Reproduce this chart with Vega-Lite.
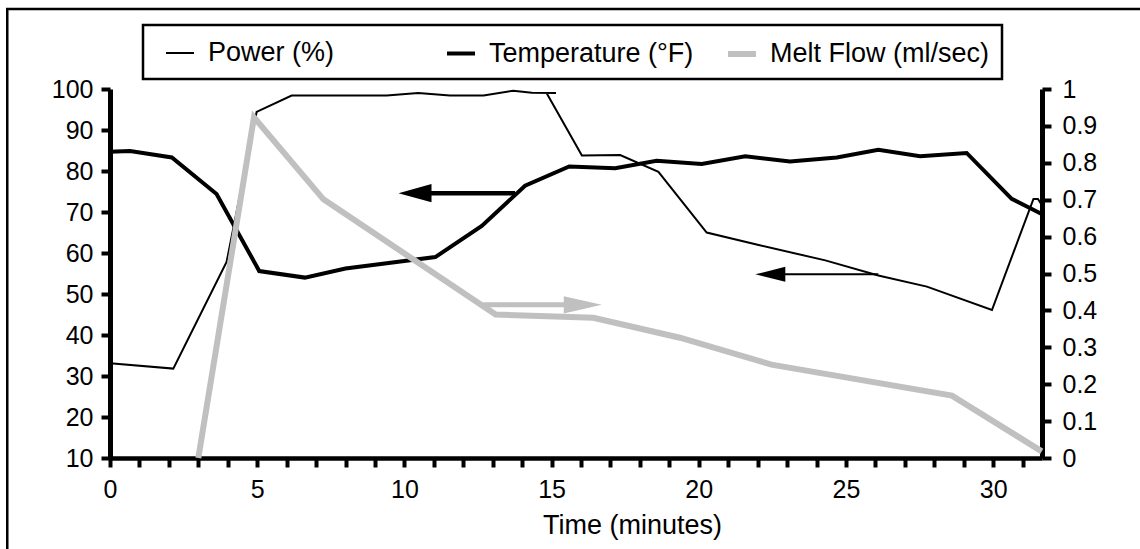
{
  "$schema": "https://vega.github.io/schema/vega-lite/v6.json",
  "width": 932,
  "height": 369,
  "autosize": {"type": "none"},
  "padding": {"left": 110, "top": 89, "right": 98, "bottom": 91},
  "background": "white",
  "datasets": {
    "series": [
      {"series": "Power (%)", "i": 0, "t": 0, "v": 33.1},
      {"series": "Power (%)", "i": 1, "t": 2.15, "v": 31.8},
      {"series": "Power (%)", "i": 2, "t": 3.96, "v": 57.8},
      {"series": "Power (%)", "i": 3, "t": 4.98, "v": 94.4},
      {"series": "Power (%)", "i": 4, "t": 6.17, "v": 98.4},
      {"series": "Power (%)", "i": 5, "t": 8.4, "v": 98.4},
      {"series": "Power (%)", "i": 6, "t": 9.4, "v": 98.4},
      {"series": "Power (%)", "i": 7, "t": 10.47, "v": 99.0},
      {"series": "Power (%)", "i": 8, "t": 11.55, "v": 98.4},
      {"series": "Power (%)", "i": 9, "t": 12.69, "v": 98.4},
      {"series": "Power (%)", "i": 10, "t": 13.7, "v": 99.6},
      {"series": "Power (%)", "i": 11, "t": 14.33, "v": 99.1},
      {"series": "Power (%)", "i": 12, "t": 15.15, "v": 99.0},
      {"series": "Power (%)", "i": 13, "t": 14.83, "v": 99.0},
      {"series": "Power (%)", "i": 14, "t": 16.03, "v": 83.8},
      {"series": "Power (%)", "i": 15, "t": 17.33, "v": 83.9},
      {"series": "Power (%)", "i": 16, "t": 18.63, "v": 79.8},
      {"series": "Power (%)", "i": 17, "t": 20.27, "v": 65.0},
      {"series": "Power (%)", "i": 18, "t": 22.0, "v": 62.0},
      {"series": "Power (%)", "i": 19, "t": 24.3, "v": 58.2},
      {"series": "Power (%)", "i": 20, "t": 26.1, "v": 54.5},
      {"series": "Power (%)", "i": 21, "t": 27.75, "v": 51.8},
      {"series": "Power (%)", "i": 22, "t": 29.96, "v": 46.1},
      {"series": "Power (%)", "i": 23, "t": 31.37, "v": 73.2},
      {"series": "Power (%)", "i": 24, "t": 31.52, "v": 73.2},
      {"series": "Power (%)", "i": 25, "t": 31.65, "v": 71.8},
      {"series": "Temperature (°F)", "i": 0, "t": 0, "v": 84.7},
      {"series": "Temperature (°F)", "i": 1, "t": 0.68, "v": 84.9},
      {"series": "Temperature (°F)", "i": 2, "t": 2.1, "v": 83.3},
      {"series": "Temperature (°F)", "i": 3, "t": 3.62, "v": 74.4},
      {"series": "Temperature (°F)", "i": 4, "t": 5.07, "v": 55.6},
      {"series": "Temperature (°F)", "i": 5, "t": 6.62, "v": 54.0},
      {"series": "Temperature (°F)", "i": 6, "t": 8.0, "v": 56.2},
      {"series": "Temperature (°F)", "i": 7, "t": 9.4, "v": 57.5},
      {"series": "Temperature (°F)", "i": 8, "t": 11.05, "v": 59.0},
      {"series": "Temperature (°F)", "i": 9, "t": 12.63, "v": 66.6},
      {"series": "Temperature (°F)", "i": 10, "t": 14.1, "v": 76.4},
      {"series": "Temperature (°F)", "i": 11, "t": 15.6, "v": 81.1},
      {"series": "Temperature (°F)", "i": 12, "t": 17.16, "v": 80.7},
      {"series": "Temperature (°F)", "i": 13, "t": 18.57, "v": 82.5},
      {"series": "Temperature (°F)", "i": 14, "t": 20.1, "v": 81.7},
      {"series": "Temperature (°F)", "i": 15, "t": 21.58, "v": 83.6},
      {"series": "Temperature (°F)", "i": 16, "t": 23.1, "v": 82.3},
      {"series": "Temperature (°F)", "i": 17, "t": 24.69, "v": 83.3},
      {"series": "Temperature (°F)", "i": 18, "t": 26.1, "v": 85.2},
      {"series": "Temperature (°F)", "i": 19, "t": 27.52, "v": 83.6},
      {"series": "Temperature (°F)", "i": 20, "t": 29.1, "v": 84.4},
      {"series": "Temperature (°F)", "i": 21, "t": 30.63, "v": 73.2},
      {"series": "Temperature (°F)", "i": 22, "t": 31.65, "v": 69.5},
      {"series": "Melt Flow (ml/sec)", "i": 0, "t": 3.0, "v": 0},
      {"series": "Melt Flow (ml/sec)", "i": 1, "t": 4.89, "v": 0.923},
      {"series": "Melt Flow (ml/sec)", "i": 2, "t": 7.25, "v": 0.701},
      {"series": "Melt Flow (ml/sec)", "i": 3, "t": 13.1, "v": 0.389},
      {"series": "Melt Flow (ml/sec)", "i": 4, "t": 16.42, "v": 0.38},
      {"series": "Melt Flow (ml/sec)", "i": 5, "t": 19.36, "v": 0.326},
      {"series": "Melt Flow (ml/sec)", "i": 6, "t": 22.47, "v": 0.253},
      {"series": "Melt Flow (ml/sec)", "i": 7, "t": 28.6, "v": 0.169},
      {"series": "Melt Flow (ml/sec)", "i": 8, "t": 31.65, "v": 0.018}
    ],
    "arrows": [
      {"arrow": "Temperature", "head": 10.36, "tail": 13.76, "v": 74.6},
      {"arrow": "Power", "head": 22.43, "tail": 26.1, "v": 54.8},
      {"arrow": "Melt", "head": 16.06, "tail": 12.68, "v": 0.415}
    ]
  },
  "layer": [
    {
      "layer": [
        {
          "data": {"values": [{}]},
          "mark": {"type": "rect", "fill": "transparent", "stroke": "black", "strokeWidth": 2.5, "clip": false},
          "encoding": {
            "x": {"datum": -3.49, "type": "quantitative", "scale": {"domain": [0, 31.66], "nice": false, "zero": false},
                  "axis": {"title": "Time (minutes)", "values": [0,1,2,3,4,5,6,7,8,9,10,11,12,13,14,15,16,17,18,19,20,21,22,23,24,25,26,27,28,29,30,31], "tickCount": 32, "labelExpr": "datum.value % 5 === 0 ? datum.label : ''", "labelFlush": false, "labelOverlap": false, "titleX": 522, "titleY": 75, "titleBaseline": "alphabetic", "titleAlign": "center", "labelPadding": 10, "domainWidth": 4.5}},
            "x2": {"datum": 37},
            "y": {"datum": 119.5, "type": "quantitative", "scale": {"domain": [10, 100], "nice": false, "zero": false},
                  "axis": {"title": null, "orient": "left", "values": [10,20,30,40,50,60,70,80,90,100], "tickCount": 10, "labelOverlap": false, "labelPadding": 8}},
            "y2": {"datum": -20}
          }
        },
        {
          "data": {"name": "series"},
          "transform": [{"filter": "datum.series == 'Power (%)'"}],
          "mark": {"type": "line"},
          "encoding": {
            "x": {"field": "t", "type": "quantitative", "scale": {"domain": [0, 31.66], "nice": false, "zero": false},
                  "axis": {"title": "Time (minutes)", "values": [0,1,2,3,4,5,6,7,8,9,10,11,12,13,14,15,16,17,18,19,20,21,22,23,24,25,26,27,28,29,30,31], "tickCount": 32, "labelExpr": "datum.value % 5 === 0 ? datum.label : ''", "labelFlush": false, "labelOverlap": false, "titleX": 522, "titleY": 75, "titleBaseline": "alphabetic", "titleAlign": "center", "labelPadding": 10, "domainWidth": 4.5}},
            "y": {"field": "v", "type": "quantitative", "scale": {"domain": [10, 100], "nice": false, "zero": false},
                  "axis": {"title": null, "orient": "left", "values": [10,20,30,40,50,60,70,80,90,100], "tickCount": 10, "labelOverlap": false, "labelPadding": 8}},
            "order": {"field": "i", "type": "quantitative"},
            "color": {"field": "series", "type": "nominal",
                      "scale": {"domain": ["Power (%)", "Temperature (°F)", "Melt Flow (ml/sec)"], "range": ["#000000", "#000000", "#c0c0c0"]},
                      "legend": {"title": null, "orient": "none", "legendX": 33, "legendY": -64, "direction": "horizontal", "columns": 3, "symbolType": "stroke", "labelExpr": "datum.label == 'Melt Flow (ml/sec)' ? datum.label + '\u00a0' : datum.label"}},
            "strokeWidth": {"field": "series", "type": "nominal",
                      "scale": {"domain": ["Power (%)", "Temperature (°F)", "Melt Flow (ml/sec)"], "range": [2, 6, 5]},
                      "legend": {"title": null, "orient": "none", "legendX": 33, "legendY": -64, "direction": "horizontal", "columns": 3, "symbolType": "stroke", "labelExpr": "datum.label == 'Melt Flow (ml/sec)' ? datum.label + '\u00a0' : datum.label"}}
          }
        },
        {
          "data": {"name": "series"},
          "transform": [{"filter": "datum.series == 'Temperature (°F)'"}],
          "mark": {"type": "line"},
          "encoding": {
            "x": {"field": "t", "type": "quantitative", "scale": {"domain": [0, 31.66], "nice": false, "zero": false},
                  "axis": {"title": "Time (minutes)", "values": [0,1,2,3,4,5,6,7,8,9,10,11,12,13,14,15,16,17,18,19,20,21,22,23,24,25,26,27,28,29,30,31], "tickCount": 32, "labelExpr": "datum.value % 5 === 0 ? datum.label : ''", "labelFlush": false, "labelOverlap": false, "titleX": 522, "titleY": 75, "titleBaseline": "alphabetic", "titleAlign": "center", "labelPadding": 10, "domainWidth": 4.5}},
            "y": {"field": "v", "type": "quantitative", "scale": {"domain": [10, 100], "nice": false, "zero": false},
                  "axis": {"title": null, "orient": "left", "values": [10,20,30,40,50,60,70,80,90,100], "tickCount": 10, "labelOverlap": false, "labelPadding": 8}},
            "order": {"field": "i", "type": "quantitative"},
            "color": {"field": "series", "type": "nominal",
                      "scale": {"domain": ["Power (%)", "Temperature (°F)", "Melt Flow (ml/sec)"], "range": ["#000000", "#000000", "#c0c0c0"]},
                      "legend": {"title": null, "orient": "none", "legendX": 33, "legendY": -64, "direction": "horizontal", "columns": 3, "symbolType": "stroke", "labelExpr": "datum.label == 'Melt Flow (ml/sec)' ? datum.label + '\u00a0' : datum.label"}},
            "strokeWidth": {"field": "series", "type": "nominal",
                      "scale": {"domain": ["Power (%)", "Temperature (°F)", "Melt Flow (ml/sec)"], "range": [2, 6, 5]},
                      "legend": {"title": null, "orient": "none", "legendX": 33, "legendY": -64, "direction": "horizontal", "columns": 3, "symbolType": "stroke", "labelExpr": "datum.label == 'Melt Flow (ml/sec)' ? datum.label + '\u00a0' : datum.label"}}
          }
        },
        {
          "data": {"name": "arrows"},
          "transform": [{"filter": "datum.arrow == 'Temperature'"}],
          "mark": {"type": "rule", "color": "black", "strokeWidth": 4.5},
          "encoding": {
            "x": {"field": "head", "type": "quantitative", "scale": {"domain": [0, 31.66], "nice": false, "zero": false}, "title": "Time (minutes)"},
            "x2": {"field": "tail"},
            "y": {"field": "v", "type": "quantitative", "scale": {"domain": [10, 100], "nice": false, "zero": false}, "title": null}
          }
        },
        {
          "data": {"name": "arrows"},
          "transform": [{"filter": "datum.arrow == 'Temperature'"}],
          "mark": {"type": "point", "shape": "M-1,0L1,-0.55L1,0.55Z", "size": 1089, "filled": true, "color": "black", "opacity": 1, "strokeWidth": 0},
          "encoding": {
            "x": {"field": "head", "type": "quantitative", "scale": {"domain": [0, 31.66], "nice": false, "zero": false}, "title": "Time (minutes)"},
            "y": {"field": "v", "type": "quantitative", "scale": {"domain": [10, 100], "nice": false, "zero": false}, "title": null}
          }
        },
        {
          "data": {"name": "arrows"},
          "transform": [{"filter": "datum.arrow == 'Power'"}],
          "mark": {"type": "rule", "color": "black", "strokeWidth": 2},
          "encoding": {
            "x": {"field": "head", "type": "quantitative", "scale": {"domain": [0, 31.66], "nice": false, "zero": false}, "title": "Time (minutes)"},
            "x2": {"field": "tail"},
            "y": {"field": "v", "type": "quantitative", "scale": {"domain": [10, 100], "nice": false, "zero": false}, "title": null}
          }
        },
        {
          "data": {"name": "arrows"},
          "transform": [{"filter": "datum.arrow == 'Power'"}],
          "mark": {"type": "point", "shape": "M-1,0L1,-0.5L1,0.5Z", "size": 900, "filled": true, "color": "black", "opacity": 1, "strokeWidth": 0},
          "encoding": {
            "x": {"field": "head", "type": "quantitative", "scale": {"domain": [0, 31.66], "nice": false, "zero": false}, "title": "Time (minutes)"},
            "y": {"field": "v", "type": "quantitative", "scale": {"domain": [10, 100], "nice": false, "zero": false}, "title": null}
          }
        }
      ]
    },
    {
      "layer": [
        {
          "data": {"name": "series"},
          "transform": [{"filter": "datum.series == 'Melt Flow (ml/sec)'"}],
          "mark": {"type": "line"},
          "encoding": {
            "x": {"field": "t", "type": "quantitative", "scale": {"domain": [0, 31.66], "nice": false, "zero": false},
                  "axis": {"title": "Time (minutes)", "values": [0,1,2,3,4,5,6,7,8,9,10,11,12,13,14,15,16,17,18,19,20,21,22,23,24,25,26,27,28,29,30,31], "tickCount": 32, "labelExpr": "datum.value % 5 === 0 ? datum.label : ''", "labelFlush": false, "labelOverlap": false, "titleX": 522, "titleY": 75, "titleBaseline": "alphabetic", "titleAlign": "center", "labelPadding": 10, "domainWidth": 4.5}},
            "y": {"field": "v", "type": "quantitative", "scale": {"domain": [0, 1], "nice": false, "zero": false},
                  "axis": {"title": null, "orient": "right", "values": [0, 0.1, 0.2, 0.3, 0.4, 0.5, 0.6, 0.7, 0.8, 0.9, 1], "tickCount": 11, "labelOverlap": false, "format": "~g", "labelPadding": 11}},
            "order": {"field": "i", "type": "quantitative"},
            "color": {"field": "series", "type": "nominal",
                      "scale": {"domain": ["Power (%)", "Temperature (°F)", "Melt Flow (ml/sec)"], "range": ["#000000", "#000000", "#c0c0c0"]},
                      "legend": {"title": null, "orient": "none", "legendX": 33, "legendY": -64, "direction": "horizontal", "columns": 3, "symbolType": "stroke", "labelExpr": "datum.label == 'Melt Flow (ml/sec)' ? datum.label + '\u00a0' : datum.label"}},
            "strokeWidth": {"field": "series", "type": "nominal",
                      "scale": {"domain": ["Power (%)", "Temperature (°F)", "Melt Flow (ml/sec)"], "range": [2, 6, 5]},
                      "legend": {"title": null, "orient": "none", "legendX": 33, "legendY": -64, "direction": "horizontal", "columns": 3, "symbolType": "stroke", "labelExpr": "datum.label == 'Melt Flow (ml/sec)' ? datum.label + '\u00a0' : datum.label"}}
          }
        },
        {
          "data": {"name": "arrows"},
          "transform": [{"filter": "datum.arrow == 'Melt'"}],
          "mark": {"type": "rule", "color": "#c0c0c0", "strokeWidth": 5},
          "encoding": {
            "x": {"field": "head", "type": "quantitative", "scale": {"domain": [0, 31.66], "nice": false, "zero": false}, "title": "Time (minutes)"},
            "x2": {"field": "tail"},
            "y": {"field": "v", "type": "quantitative", "scale": {"domain": [0, 1], "nice": false, "zero": false}, "title": null}
          }
        },
        {
          "data": {"name": "arrows"},
          "transform": [{"filter": "datum.arrow == 'Melt'"}],
          "mark": {"type": "point", "shape": "M1,0L-1,-0.45L-1,0.45Z", "size": 1444, "filled": true, "color": "#c0c0c0", "opacity": 1, "strokeWidth": 0},
          "encoding": {
            "x": {"field": "head", "type": "quantitative", "scale": {"domain": [0, 31.66], "nice": false, "zero": false}, "title": "Time (minutes)"},
            "y": {"field": "v", "type": "quantitative", "scale": {"domain": [0, 1], "nice": false, "zero": false}, "title": null}
          }
        }
      ]
    }
  ],
  "resolve": {"scale": {"y": "independent"}},
  "config": {
    "view": {"stroke": null},
    "font": "Liberation Sans",
    "axis": {
      "domainColor": "black", "domainWidth": 5, "tickColor": "black", "tickWidth": 4, "tickSize": 9,
      "labelColor": "black", "labelFont": "Liberation Sans", "labelFontSize": 25, "grid": false,
      "titleFont": "Liberation Sans", "titleFontSize": 27, "titleFontWeight": "normal", "titleColor": "black"
    },
    "legend": {
      "gridAlign": "all", "columnPadding": 7, "padding": 12, "symbolOffset": 8, "labelOffset": 11,
      "symbolSize": 784, "labelFont": "Liberation Sans", "labelFontSize": 27, "labelColor": "black",
      "labelLimit": 400, "strokeColor": "black", "strokeWidth": 2.5, "fillColor": "white"
    }
  }
}
